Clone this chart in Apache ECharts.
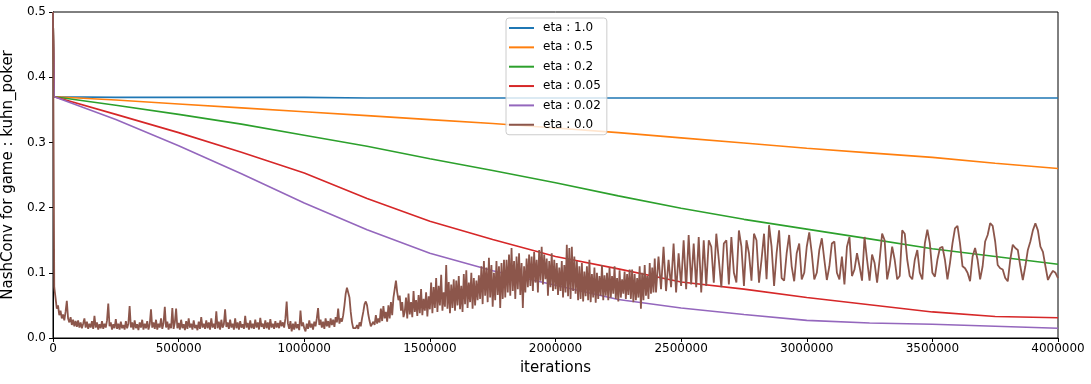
<!DOCTYPE html>
<html>
<head>
<meta charset="UTF-8">
<title>NashConv kuhn_poker</title>
<script src="https://cdn.jsdelivr.net/npm/echarts@6/dist/echarts.min.js"></script>
<style>
  html, body { margin: 0; padding: 0; background: #fff; }
  #chart { width: 1091px; height: 384px; }
</style>
</head>
<body>
<div id="chart"></div>
<script type="text/javascript">
// iterations sampled for the smooth curves
var iters = [0, 5000, 250000, 500000, 750000, 1000000, 1250000, 1500000, 1750000, 2000000,
  2250000, 2500000, 2750000, 3000000, 3250000, 3500000, 3750000, 4000000];

var eta10 = [0.5, 0.370, 0.369, 0.369, 0.369, 0.369, 0.368, 0.368, 0.368, 0.368,
  0.368, 0.368, 0.368, 0.368, 0.368, 0.368, 0.368, 0.368];
var eta05 = [0.5, 0.370, 0.365, 0.359, 0.353, 0.347, 0.341, 0.335, 0.329, 0.322,
  0.315, 0.307, 0.299, 0.291, 0.284, 0.277, 0.268, 0.260];
var eta02 = [0.5, 0.370, 0.357, 0.343, 0.328, 0.311, 0.294, 0.275, 0.257, 0.238,
  0.218, 0.199, 0.182, 0.167, 0.152, 0.137, 0.125, 0.113];
var eta005 = [0.5, 0.370, 0.343, 0.315, 0.285, 0.253, 0.214, 0.179, 0.151, 0.125,
  0.106, 0.086, 0.075, 0.062, 0.051, 0.040, 0.033, 0.031];
var eta002 = [0.5, 0.370, 0.335, 0.295, 0.252, 0.207, 0.166, 0.130, 0.103, 0.081,
  0.059, 0.046, 0.036, 0.027, 0.023, 0.021, 0.018, 0.015];

// eta 0.0, noisy part: one value every 5000 iterations from 0 to 2395000
var denseStep = 5000;
var eta00Dense = [
  0.5, 0.078, 0.062, 0.045, 0.050, 0.035, 0.042, 0.030, 0.036, 0.027, 0.040, 0.057, 0.030, 0.024, 0.032, 0.020, 0.028, 0.018, 0.026, 0.017,
  0.027, 0.016, 0.024, 0.015, 0.022, 0.030, 0.016, 0.025, 0.014, 0.022, 0.016, 0.026, 0.014, 0.034, 0.016, 0.024, 0.013, 0.021, 0.015, 0.026,
  0.014, 0.022, 0.016, 0.027, 0.053, 0.018, 0.024, 0.013, 0.021, 0.015, 0.029, 0.014, 0.022, 0.013, 0.025, 0.015, 0.020, 0.013, 0.026, 0.015,
  0.022, 0.049, 0.016, 0.024, 0.013, 0.027, 0.015, 0.021, 0.012, 0.024, 0.016, 0.028, 0.013, 0.022, 0.015, 0.026, 0.013, 0.021, 0.044, 0.016,
  0.024, 0.014, 0.028, 0.013, 0.022, 0.016, 0.030, 0.014, 0.023, 0.048, 0.016, 0.025, 0.013, 0.022, 0.015, 0.046, 0.014, 0.024, 0.045, 0.015,
  0.023, 0.013, 0.028, 0.015, 0.021, 0.012, 0.026, 0.014, 0.030, 0.016, 0.022, 0.013, 0.027, 0.015, 0.020, 0.012, 0.025, 0.014, 0.032, 0.016,
  0.022, 0.014, 0.027, 0.015, 0.024, 0.013, 0.030, 0.016, 0.022, 0.014, 0.041, 0.015, 0.025, 0.013, 0.028, 0.016, 0.021, 0.044, 0.017, 0.024,
  0.014, 0.028, 0.016, 0.022, 0.013, 0.030, 0.015, 0.024, 0.013, 0.026, 0.016, 0.021, 0.014, 0.034, 0.016, 0.023, 0.013, 0.027, 0.015, 0.022,
  0.014, 0.028, 0.016, 0.024, 0.013, 0.031, 0.017, 0.022, 0.014, 0.027, 0.015, 0.024, 0.013, 0.029, 0.016, 0.022, 0.014, 0.026, 0.016, 0.023,
  0.015, 0.027, 0.018, 0.024, 0.016, 0.030, 0.056, 0.022, 0.014, 0.026, 0.010, 0.022, 0.013, 0.025, 0.015, 0.021, 0.012, 0.042, 0.018, 0.024,
  0.015, 0.010, 0.022, 0.014, 0.027, 0.016, 0.022, 0.013, 0.025, 0.018, 0.030, 0.046, 0.020, 0.028, 0.016, 0.025, 0.014, 0.030, 0.018, 0.026,
  0.016, 0.030, 0.020, 0.028, 0.017, 0.032, 0.024, 0.045, 0.022, 0.030, 0.025, 0.035, 0.050, 0.068, 0.077, 0.074, 0.062, 0.040, 0.024, 0.015,
  0.012, 0.015, 0.020, 0.014, 0.024, 0.018, 0.030, 0.040, 0.052, 0.056, 0.050, 0.036, 0.026, 0.018, 0.016, 0.025, 0.020, 0.035, 0.022, 0.030,
  0.024, 0.045, 0.026, 0.049, 0.030, 0.040, 0.025, 0.050, 0.030, 0.055, 0.035, 0.062, 0.075, 0.088, 0.070, 0.058, 0.065, 0.042, 0.055, 0.032,
  0.040, 0.062, 0.030, 0.068, 0.036, 0.055, 0.032, 0.072, 0.040, 0.058, 0.034, 0.066, 0.038, 0.075, 0.035, 0.060, 0.042, 0.070, 0.033, 0.064,
  0.044, 0.085, 0.038, 0.078, 0.046, 0.092, 0.040, 0.080, 0.050, 0.097, 0.042, 0.070, 0.048, 0.112, 0.045, 0.086, 0.038, 0.082, 0.046, 0.090,
  0.042, 0.088, 0.050, 0.095, 0.044, 0.080, 0.040, 0.098, 0.052, 0.104, 0.046, 0.085, 0.055, 0.100, 0.045, 0.092, 0.050, 0.088, 0.058, 0.096,
  0.060, 0.110, 0.052, 0.118, 0.065, 0.108, 0.055, 0.123, 0.062, 0.112, 0.048, 0.100, 0.058, 0.118, 0.066, 0.110, 0.046, 0.115, 0.060, 0.120,
  0.062, 0.120, 0.070, 0.128, 0.065, 0.138, 0.072, 0.118, 0.060, 0.125, 0.075, 0.130, 0.066, 0.115, 0.046, 0.110, 0.070, 0.122, 0.078, 0.128,
  0.080, 0.125, 0.072, 0.132, 0.085, 0.120, 0.070, 0.135, 0.088, 0.140, 0.082, 0.128, 0.090, 0.122, 0.065, 0.118, 0.078, 0.130, 0.072, 0.120,
  0.075, 0.115, 0.066, 0.108, 0.072, 0.118, 0.062, 0.112, 0.070, 0.143, 0.064, 0.138, 0.060, 0.140, 0.072, 0.125, 0.068, 0.118, 0.058, 0.110,
  0.060, 0.115, 0.056, 0.102, 0.064, 0.110, 0.058, 0.120, 0.055, 0.098, 0.062, 0.108, 0.054, 0.100, 0.060, 0.095, 0.065, 0.112, 0.058, 0.096,
  0.065, 0.100, 0.058, 0.108, 0.062, 0.095, 0.068, 0.110, 0.060, 0.092, 0.056, 0.104, 0.062, 0.090, 0.068, 0.102, 0.060, 0.098, 0.066, 0.105,
  0.060, 0.105, 0.055, 0.098, 0.058, 0.092, 0.062, 0.110, 0.045, 0.100, 0.058, 0.112, 0.065, 0.095, 0.060, 0.115, 0.068, 0.108, 0.070, 0.122
];

// eta 0.0, oscillating tail: one value every 10000 iterations from 2400000 to 4000000
var tailStart = 2400000;
var tailStep = 10000;
var eta00Tail = [
  0.070, 0.125, 0.075, 0.140, 0.072, 0.120, 0.078, 0.145, 0.070, 0.130,
  0.080, 0.150, 0.075, 0.158, 0.082, 0.145, 0.078, 0.155, 0.070, 0.150,
  0.080, 0.150, 0.140, 0.085, 0.160, 0.120, 0.078, 0.145, 0.150, 0.082,
  0.155, 0.100, 0.085, 0.165, 0.140, 0.080, 0.150, 0.130, 0.088, 0.160,
  0.150, 0.085, 0.120, 0.160, 0.090, 0.173, 0.140, 0.080, 0.130, 0.165,
  0.092, 0.088, 0.130, 0.158, 0.110, 0.087, 0.130, 0.145, 0.090, 0.100,
  0.140, 0.162, 0.130, 0.090, 0.100, 0.135, 0.153, 0.120, 0.089, 0.110,
  0.145, 0.148, 0.100, 0.090, 0.125, 0.082, 0.140, 0.155, 0.095, 0.105,
  0.130, 0.110, 0.088, 0.155, 0.120, 0.088, 0.128, 0.115, 0.085, 0.120,
  0.160, 0.150, 0.090, 0.110, 0.140, 0.120, 0.090, 0.095, 0.165, 0.160,
  0.120, 0.095, 0.090, 0.120, 0.135, 0.100, 0.090, 0.145, 0.166, 0.145,
  0.100, 0.094, 0.120, 0.138, 0.140, 0.120, 0.090, 0.115, 0.145, 0.168,
  0.172, 0.145, 0.110, 0.107, 0.100, 0.087, 0.125, 0.138, 0.120, 0.090,
  0.110, 0.148, 0.158, 0.176, 0.172, 0.148, 0.112, 0.107, 0.105, 0.092,
  0.087, 0.120, 0.143, 0.138, 0.135, 0.110, 0.089, 0.110, 0.135, 0.148,
  0.165, 0.176, 0.165, 0.140, 0.132, 0.110, 0.089, 0.097, 0.103, 0.100,
  0.092
];

var names = ['eta : 1.0', 'eta : 0.5', 'eta : 0.2', 'eta : 0.05', 'eta : 0.02', 'eta : 0.0'];
var colors = ['#1f77b4', '#ff7f0e', '#2ca02c', '#d62728', '#9467bd', '#8c564b'];

function pairs(vals) {
  return iters.map(function (x, i) { return [x, vals[i]]; });
}
var brownData = eta00Dense.map(function (v, i) { return [i * denseStep, v]; })
  .concat(eta00Tail.map(function (v, i) { return [tailStart + i * tailStep, v]; }));

var smooth = [eta10, eta05, eta02, eta005, eta002];
var series = smooth.map(function (vals, k) {
  return {
    name: names[k], type: 'line', data: pairs(vals),
    showSymbol: false, symbol: 'none',
    lineStyle: { width: 1.6, color: colors[k] },
    itemStyle: { color: colors[k] }
  };
});
series.push({
  name: names[5], type: 'line', data: brownData,
  showSymbol: false, symbol: 'none', sampling: null,
  lineStyle: { width: 1.8, color: colors[5] },
  itemStyle: { color: colors[5] }
});

var myChart = echarts.init(document.getElementById('chart'));
var font = 'DejaVu Sans';
var option = {
  animation: false,
  color: colors,
  textStyle: { fontFamily: font },
  grid: {
    left: 53, right: 33, top: 12, bottom: 46,
    containLabel: false, outerBoundsMode: 'none',
    show: true, borderColor: '#000', borderWidth: 1, backgroundColor: 'transparent'
  },
  legend: {
    orient: 'vertical', left: 506, top: 18,
    data: names,
    icon: 'rect', itemWidth: 25, itemHeight: 2, itemGap: 5.35,
    padding: [3, 6, 3, 3],
    backgroundColor: 'rgba(255,255,255,0.8)',
    borderColor: '#cccccc', borderWidth: 1, borderRadius: 3,
    textStyle: { fontFamily: font, fontSize: 12, color: '#000', lineHeight: 14, padding: [0, 0, 0, 4] }
  },
  xAxis: {
    type: 'value', min: 0, max: 4000000, interval: 500000,
    name: 'iterations', nameLocation: 'middle', nameGap: 23,
    nameTextStyle: { fontFamily: font, fontSize: 15, color: '#000' },
    axisLine: { show: true, lineStyle: { color: '#000', width: 1 } },
    axisTick: { show: true, inside: false, length: 4, lineStyle: { color: '#000' } },
    axisLabel: { fontFamily: font, fontSize: 12, color: '#000', margin: 5,
      formatter: function (v) { return String(v); } },
    splitLine: { show: false }
  },
  yAxis: {
    type: 'value', min: 0, max: 0.5, interval: 0.1,
    name: 'NashConv for game : kuhn_poker', nameLocation: 'middle', nameGap: 31,
    nameTextStyle: { fontFamily: font, fontSize: 15, color: '#000' },
    axisLine: { show: true, lineStyle: { color: '#000', width: 1 } },
    axisTick: { show: true, inside: false, length: 4, lineStyle: { color: '#000' } },
    axisLabel: { fontFamily: font, fontSize: 12, color: '#000', margin: 7,
      formatter: function (v) { return v.toFixed(1); } },
    splitLine: { show: false }
  },
  series: series
};
myChart.setOption(option);
</script>
</body>
</html>
